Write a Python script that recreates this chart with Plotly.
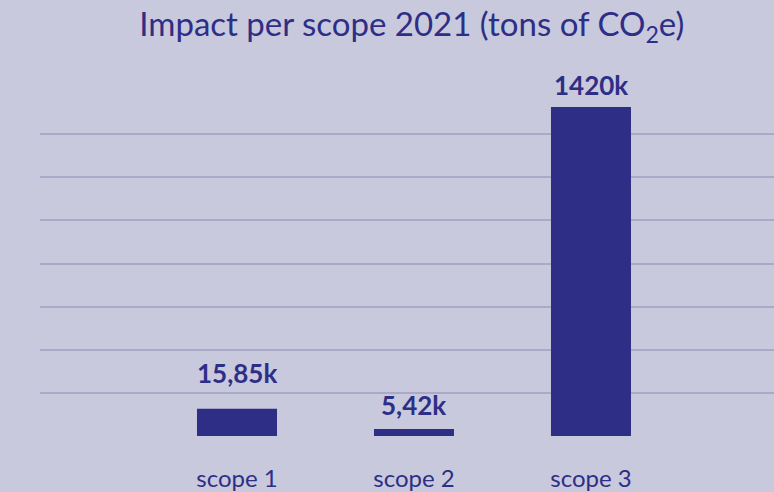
import plotly.graph_objects as go

categories = ["scope 1", "scope 2", "scope 3"]
# bar heights as drawn (in gridline units, the chart is not to scale)
bar_heights = [0.63, 0.16, 7.63]
value_labels = ["15,85k", "5,42k", "1420k"]

NAVY = "#2e2e87"
BG = "#c8c9dc"
GRID = "#a9a9c9"
FONT = "Lato"

fig = go.Figure()
fig.add_trace(go.Bar(
    x=categories, y=bar_heights,
    marker=dict(color=NAVY, line=dict(width=0)),
    width=0.452,
    hoverinfo="skip",
))

label_shift = [18, 6, 4]
for c, h, t, s in zip(categories, bar_heights, value_labels, label_shift):
    fig.add_annotation(x=c, y=h, text="<b>%s</b>" % t, showarrow=False,
                       yanchor="bottom", yshift=s,
                       font=dict(family=FONT, size=26, color=NAVY))

fig.update_layout(
    width=774, height=492,
    paper_bgcolor=BG, plot_bgcolor=BG,
    margin=dict(l=40, r=0, t=91, b=56),
    showlegend=False,
    title=dict(text="Impact per scope 2021 (tons of CO<sub>2</sub>e)",
               x=0.532, xanchor="center", y=0.95, yanchor="middle",
               font=dict(family=FONT, size=33, color=NAVY)),
    xaxis=dict(range=[-1.113, 3.034], showgrid=False, zeroline=False,
               showline=False, ticks="outside", ticklen=21,
               tickcolor="rgba(0,0,0,0)", automargin=False,
               tickfont=dict(family=FONT, size=24, color=NAVY)),
    yaxis=dict(range=[0, 8], tickvals=[0, 1, 2, 3, 4, 5, 6, 7],
               showticklabels=False, showgrid=True, gridcolor=GRID,
               gridwidth=1.5, zeroline=False, showline=False,
               automargin=False),
)

fig.write_html("out.html", config={"displayModeBar": False})

with open("out.html", encoding="utf-8") as f:
    html = f.read()
html = html.replace("<body>", '<body style="margin:0;padding:0;overflow:hidden">', 1)
with open("out.html", "w", encoding="utf-8") as f:
    f.write(html)
